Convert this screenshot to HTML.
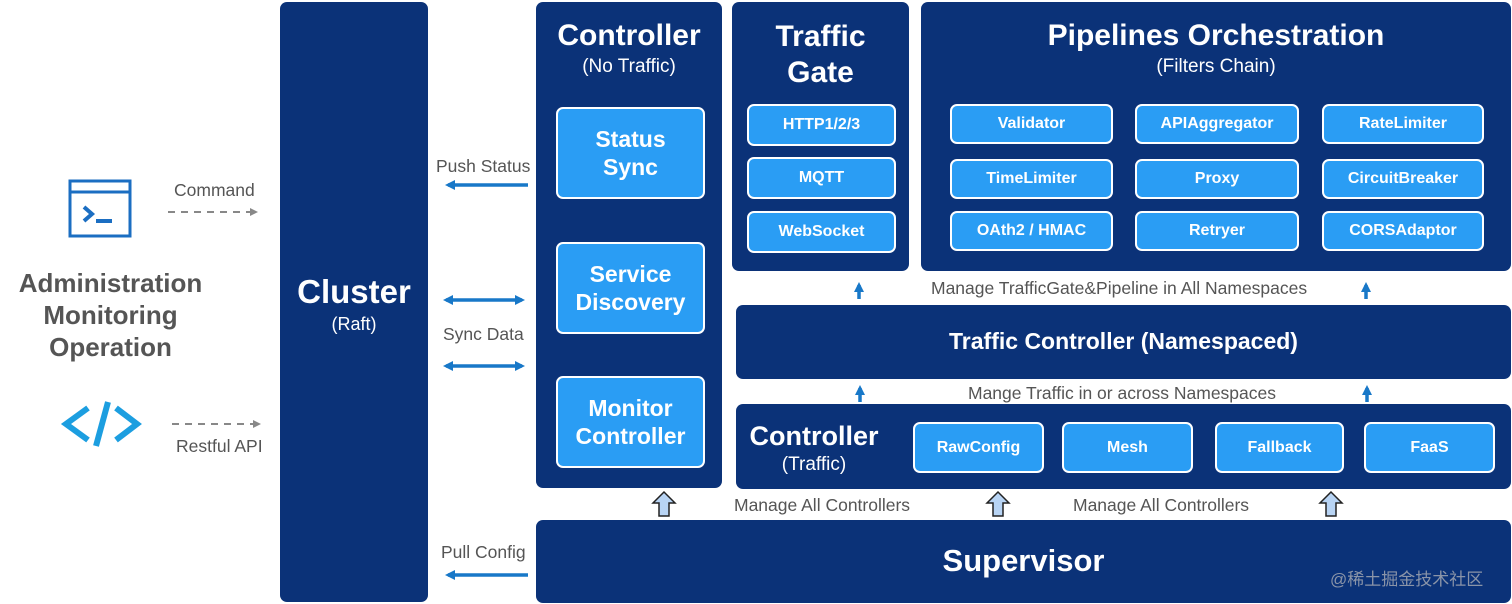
<!DOCTYPE html>
<html><head><meta charset="utf-8"><style>
*{margin:0;padding:0;box-sizing:border-box}
body{width:1512px;height:604px;background:#fff;position:relative;overflow:hidden;font-family:"Liberation Sans","Noto Sans CJK SC",sans-serif}
.n{position:absolute;background:#0b3278;border-radius:7px;color:#fff}
.b{position:absolute;background:#2a9df4;border:2px solid #fff;border-radius:7px;color:#fff;font-weight:bold;display:flex;align-items:center;justify-content:center;text-align:center}
.t{position:absolute;color:#fff;text-align:center;font-weight:bold}
.l{position:absolute;color:#555;font-size:17.5px;white-space:nowrap}
svg{position:absolute;left:0;top:0}
</style></head><body>
<div class="n" style="left:280px;top:2px;width:148px;height:600px"></div>
<div class="t" style="left:280px;top:273px;width:148px;font-size:33px">Cluster</div>
<div class="t" style="left:280px;top:314px;width:148px;font-size:18px;font-weight:normal">(Raft)</div>

<div class="n" style="left:536px;top:2px;width:186px;height:486px"></div>
<div class="t" style="left:536px;top:19px;width:186px;font-size:30px">Controller</div>
<div class="t" style="left:536px;top:56px;width:186px;font-size:19px;font-weight:normal">(No Traffic)</div>
<div class="b" style="left:556px;top:107px;width:149px;height:92px;font-size:23px;line-height:28px">Status<br>Sync</div>
<div class="b" style="left:556px;top:242px;width:149px;height:92px;font-size:23px;line-height:28px">Service<br>Discovery</div>
<div class="b" style="left:556px;top:376px;width:149px;height:92px;font-size:23px;line-height:28px">Monitor<br>Controller</div>

<div class="n" style="left:732px;top:2px;width:177px;height:269px"></div>
<div class="t" style="left:732px;top:19px;width:177px;font-size:30px;line-height:36px">Traffic<br>Gate</div>
<div class="b" style="left:747px;top:104px;width:149px;height:42px;font-size:16px">HTTP1/2/3</div>
<div class="b" style="left:747px;top:157px;width:149px;height:42px;font-size:16px">MQTT</div>
<div class="b" style="left:747px;top:211px;width:149px;height:42px;font-size:16px">WebSocket</div>

<div class="n" style="left:921px;top:2px;width:590px;height:269px"></div>
<div class="t" style="left:921px;top:19px;width:590px;font-size:30px">Pipelines Orchestration</div>
<div class="t" style="left:921px;top:56px;width:590px;font-size:19px;font-weight:normal">(Filters Chain)</div>
<div class="b" style="left:950px;top:104px;width:163px;height:40px;font-size:16px">Validator</div>
<div class="b" style="left:1135px;top:104px;width:164px;height:40px;font-size:16px">APIAggregator</div>
<div class="b" style="left:1322px;top:104px;width:162px;height:40px;font-size:16px">RateLimiter</div>
<div class="b" style="left:950px;top:159px;width:163px;height:40px;font-size:16px">TimeLimiter</div>
<div class="b" style="left:1135px;top:159px;width:164px;height:40px;font-size:16px">Proxy</div>
<div class="b" style="left:1322px;top:159px;width:162px;height:40px;font-size:16px">CircuitBreaker</div>
<div class="b" style="left:950px;top:211px;width:163px;height:40px;font-size:16px">OAth2 / HMAC</div>
<div class="b" style="left:1135px;top:211px;width:164px;height:40px;font-size:16px">Retryer</div>
<div class="b" style="left:1322px;top:211px;width:162px;height:40px;font-size:16px">CORSAdaptor</div>

<div class="n" style="left:736px;top:305px;width:775px;height:74px"></div>
<div class="t" style="left:736px;top:328px;width:775px;font-size:23px">Traffic Controller (Namespaced)</div>

<div class="n" style="left:736px;top:404px;width:775px;height:85px"></div>
<div class="t" style="left:740px;top:421px;width:148px;font-size:27px">Controller</div>
<div class="t" style="left:740px;top:454px;width:148px;font-size:19px;font-weight:normal">(Traffic)</div>
<div class="b" style="left:913px;top:422px;width:131px;height:51px;font-size:16px">RawConfig</div>
<div class="b" style="left:1062px;top:422px;width:131px;height:51px;font-size:16px">Mesh</div>
<div class="b" style="left:1215px;top:422px;width:129px;height:51px;font-size:16px">Fallback</div>
<div class="b" style="left:1364px;top:422px;width:131px;height:51px;font-size:16px">FaaS</div>

<div class="n" style="left:536px;top:520px;width:975px;height:83px"></div>
<div class="t" style="left:536px;top:543px;width:975px;font-size:31px">Supervisor</div>
<div style="position:absolute;left:1330px;top:565px;color:#8a94a8;font-size:17px">@稀土掘金技术社区</div>

<div class="l" style="left:174px;top:180px">Command</div>
<div class="l" style="left:176px;top:436px">Restful API</div>
<div class="l" style="left:436px;top:156px">Push Status</div>
<div class="l" style="left:443px;top:324px">Sync Data</div>
<div class="l" style="left:441px;top:542px">Pull Config</div>
<div class="l" style="left:931px;top:278px">Manage TrafficGate&amp;Pipeline in All Namespaces</div>
<div class="l" style="left:968px;top:383px">Mange Traffic in or across Namespaces</div>
<div class="l" style="left:734px;top:495px">Manage All Controllers</div>
<div class="l" style="left:1073px;top:495px">Manage All Controllers</div>

<div style="position:absolute;left:12px;top:267px;width:197px;text-align:center;color:#555;font-weight:bold;font-size:26px;line-height:32px">Administration<br>Monitoring<br>Operation</div>

<svg width="1512" height="604">
<defs>
<marker id="a" markerWidth="10" markerHeight="10" refX="7" refY="5" orient="auto-start-reverse" markerUnits="userSpaceOnUse"><path d="M0,0L10,5L0,10z" fill="#1878c8"/></marker>
<marker id="g" markerWidth="8" markerHeight="8" refX="6" refY="4" orient="auto" markerUnits="userSpaceOnUse"><path d="M0,0L8,4L0,8z" fill="#888"/></marker>
</defs>
<rect x="70" y="181" width="60" height="55" fill="none" stroke="#1b6ec2" stroke-width="3"/>
<line x1="70" y1="192" x2="130" y2="192" stroke="#1b6ec2" stroke-width="3"/>
<path d="M84,207l8,7l-8,7" fill="none" stroke="#1b6ec2" stroke-width="4"/>
<line x1="96" y1="221" x2="112" y2="221" stroke="#1b6ec2" stroke-width="4"/>
<path d="M88,408L66,424L88,440" fill="none" stroke="#1c9ee0" stroke-width="6"/>
<path d="M116,408L137,424L116,440" fill="none" stroke="#1c9ee0" stroke-width="6"/>
<line x1="108" y1="402" x2="96" y2="446" stroke="#1c9ee0" stroke-width="6"/>
<line x1="168" y1="212" x2="256" y2="212" stroke="#888" stroke-width="2" stroke-dasharray="7,6" marker-end="url(#g)"/>
<line x1="172" y1="424" x2="259" y2="424" stroke="#888" stroke-width="2" stroke-dasharray="7,6" marker-end="url(#g)"/>
<line x1="528" y1="185" x2="448" y2="185" stroke="#1878c8" stroke-width="3.5" marker-end="url(#a)"/>
<line x1="446" y1="300" x2="522" y2="300" stroke="#1878c8" stroke-width="3.5" marker-start="url(#a)" marker-end="url(#a)"/>
<line x1="446" y1="366" x2="522" y2="366" stroke="#1878c8" stroke-width="3.5" marker-start="url(#a)" marker-end="url(#a)"/>
<line x1="528" y1="575" x2="448" y2="575" stroke="#1878c8" stroke-width="3.5" marker-end="url(#a)"/>
<line x1="859" y1="299" x2="859" y2="285" stroke="#1878c8" stroke-width="3.5" marker-end="url(#a)"/>
<line x1="1366" y1="299" x2="1366" y2="285" stroke="#1878c8" stroke-width="3.5" marker-end="url(#a)"/>
<line x1="860" y1="402" x2="860" y2="388" stroke="#1878c8" stroke-width="3.5" marker-end="url(#a)"/>
<line x1="1367" y1="402" x2="1367" y2="388" stroke="#1878c8" stroke-width="3.5" marker-end="url(#a)"/>
<g fill="#b8d4f4" stroke="#222" stroke-width="1.5">
<path d="M664,492l-11,11h6v13h10v-13h6z"/>
<path d="M998,492l-11,11h6v13h10v-13h6z"/>
<path d="M1331,492l-11,11h6v13h10v-13h6z"/>
</g>
</svg>
</body></html>
